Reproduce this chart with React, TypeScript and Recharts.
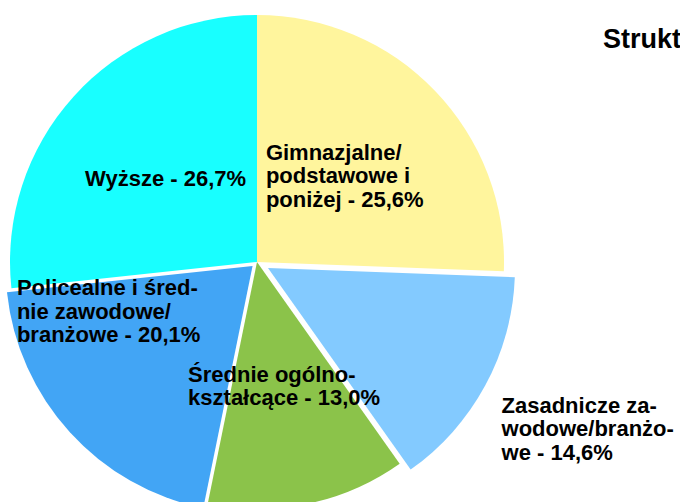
import React from 'react';
import { PieChart, Pie, Cell, Sector } from 'recharts';

const categories = [
  'Gimnazjalne/podstawowe i poniżej',
  'Zasadnicze zawodowe/branżowe',
  'Średnie ogólnokształcące',
  'Policealne i średnie zawodowe/branżowe',
  'Wyższe',
];
const shares = [25.6, 14.6, 13.0, 20.1, 26.7];
const labelLines = [
  ['Gimnazjalne/', 'podstawowe i', 'poniżej'],
  ['Zasadnicze za-', 'wodowe/branżo-', 'we'],
  ['Średnie ogólno-', 'kształcące'],
  ['Policealne i śred-', 'nie zawodowe/', 'branżowe'],
  ['Wyższe'],
];
const title = 'Struktura wykształcenia';

const COLORS = ['#FFF59D', '#83CAFF', '#8BC34A', '#42A5F5', '#18FFFF'];
const EXPLODE = [0, 12.5, 0, 6, 0];
const LABEL_POS = [
  [0.036, -0.413],
  [0.99, 0.611],
  [-0.279, 0.484],
  [-0.972, 0.134],
  [-0.696, -0.306],
];
const FONT = '"Liberation Sans", Arial, sans-serif';
const FS = 22;
const TITLE_FS = 27;
const LH = 23.5;

const data = categories.map((name, i) => ({ name, value: shares[i] }));
const RAD = Math.PI / 180;

const fmt = (v: number) => v.toFixed(1).replace('.', ',') + '%';

const renderShape = (props: any) => {
  let idx = typeof props.index === 'number' ? props.index : -1;
  if (idx < 0) {
    const nm = props.name ?? props.payload?.name;
    idx = categories.indexOf(nm);
  }
  const d = idx >= 0 ? EXPLODE[idx] : 0;
  const mid = (props.startAngle + props.endAngle) / 2;
  const cx = props.cx + d * Math.cos(mid * RAD);
  const cy = props.cy - d * Math.sin(mid * RAD);
  return (
    <Sector
      cx={cx}
      cy={cy}
      innerRadius={props.innerRadius}
      outerRadius={props.outerRadius}
      startAngle={props.startAngle}
      endAngle={props.endAngle}
      fill={props.fill}
      stroke="none"
    />
  );
};

const renderLabel = (props: any) => {
  const { cx, cy, outerRadius, index, value } = props;
  const [fx, fy] = LABEL_POS[index];
  const x = cx + fx * outerRadius;
  const y = cy + fy * outerRadius;
  const lines = labelLines[index].slice();
  lines[lines.length - 1] = lines[lines.length - 1] + ' - ' + fmt(value);
  return (
    <text
      x={x}
      y={y}
      fontFamily={FONT}
      fontWeight="bold"
      fontSize={FS}
      fill="#000"
      textAnchor="start"
    >
      {lines.map((l, i) => (
        <tspan key={i} x={x} dy={i === 0 ? 0 : LH}>
          {l}
        </tspan>
      ))}
    </text>
  );
};

export default function App() {
  return (
    <div style={{ position: 'absolute', left: 0, top: 0, width: 680, height: 502, background: '#fff' }}>
      <PieChart width={680} height={502} margin={{ top: 0, right: 0, bottom: 0, left: 0 }}>
        <text x={603} y={48} fontFamily={FONT} fontWeight="bold" fontSize={TITLE_FS} fill="#000">
          {title}
        </text>
        <Pie
          data={data}
          dataKey="value"
          nameKey="name"
          cx={257}
          cy={262}
          outerRadius={247}
          startAngle={90}
          endAngle={-270}
          isAnimationActive={false}
          labelLine={false}
          label={renderLabel}
          shape={renderShape}
          stroke="none"
        >
          {data.map((d, i) => (
            <Cell key={d.name} fill={COLORS[i]} stroke="none" />
          ))}
        </Pie>
      </PieChart>
    </div>
  );
}
